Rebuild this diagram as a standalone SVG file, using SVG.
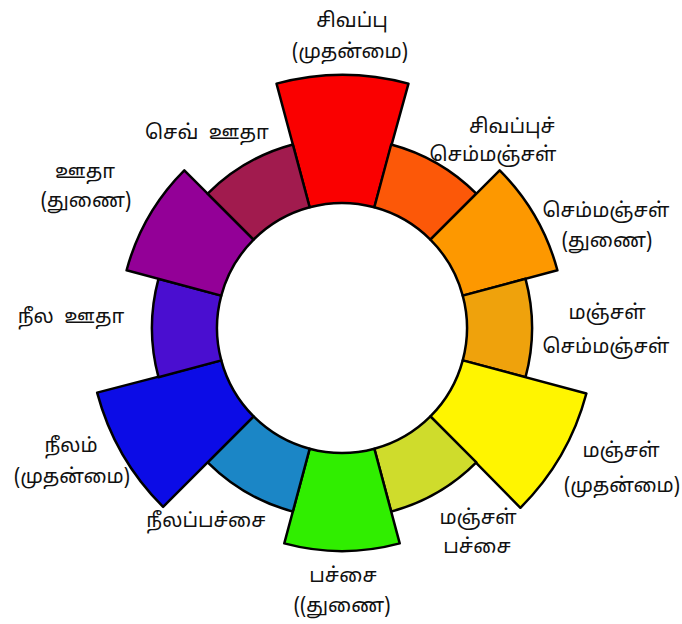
<svg xmlns="http://www.w3.org/2000/svg" xmlns:xlink="http://www.w3.org/1999/xlink" width="682" height="624" viewBox="0 0 682 624">
<style>
.w{stroke:#000;stroke-width:2.5;stroke-linejoin:round}
text{font-family:"Noto Sans Tamil","Lohit Tamil","Latha","Noto Sans","DejaVu Sans",sans-serif;font-size:20px;fill:#111;text-anchor:middle}
</style>
<defs>
<path id="p" d="M309.65 207.26 L276.52 83.62 A253 253 0 0 1 408.48 83.62 L374.35 207.26 A125 125 0 0 0 309.65 207.26 Z"/>
<path id="s" d="M309.65 207.26 L284.28 112.60 A223 223 0 0 1 399.72 112.60 L374.35 207.26 A125 125 0 0 0 309.65 207.26 Z"/>
<path id="t" d="M309.65 207.26 L292.82 144.47 A190 190 0 0 1 391.18 144.47 L374.35 207.26 A125 125 0 0 0 309.65 207.26 Z"/>
</defs>
<rect width="682" height="624" fill="#fff"/>
<g id="red"><use xlink:href="#p" class="w" fill="#FA0000"/><text x="352" y="27">சிவப்பு</text><text x="350" y="58">(முதன்மை)</text></g>
<g id="red-orange"><use xlink:href="#t" class="w" fill="#FC5808" transform="rotate(30 342 328)"/><text x="512" y="133">சிவப்புச்</text><text x="493" y="161">செம்மஞ்சள்</text></g>
<g id="orange"><use xlink:href="#s" class="w" fill="#FD9800" transform="rotate(60 342 328)"/><text x="606" y="217">செம்மஞ்சள்</text><text x="607" y="247">(துணை)</text></g>
<g id="yellow-orange"><use xlink:href="#t" class="w" fill="#EFA20C" transform="rotate(90 342 328)"/><text x="607" y="319">மஞ்சள்</text><text x="606" y="353">செம்மஞ்சள்</text></g>
<g id="yellow"><use xlink:href="#p" class="w" fill="#FFF500" transform="rotate(120 342 328)"/><text x="621" y="457">மஞ்சள்</text><text x="622" y="492">(முதன்மை)</text></g>
<g id="yellow-green"><use xlink:href="#t" class="w" fill="#CFDC2C" transform="rotate(150 342 328)"/><text x="478" y="524">மஞ்சள்</text><text x="477" y="553">பச்சை</text></g>
<g id="green"><use xlink:href="#s" class="w" fill="#30EE00" transform="rotate(180 342 328)"/><text x="343" y="582">பச்சை</text><text x="342" y="612">((துணை)</text></g>
<g id="blue-green"><use xlink:href="#t" class="w" fill="#1B86C6" transform="rotate(210 342 328)"/><text x="206" y="527">நீலப்பச்சை</text></g>
<g id="blue"><use xlink:href="#p" class="w" fill="#0C0CE6" transform="rotate(240 342 328)"/><text x="71" y="452">நீலம்</text><text x="72" y="483">(முதன்மை)</text></g>
<g id="blue-violet"><use xlink:href="#t" class="w" fill="#4A0ED0" transform="rotate(270 342 328)"/><text x="71" y="323" xml:space="preserve">நீல  ஊதா</text></g>
<g id="violet"><use xlink:href="#s" class="w" fill="#930097" transform="rotate(300 342 328)"/><text x="85" y="178">ஊதா</text><text x="86" y="207">(துணை)</text></g>
<g id="red-violet"><use xlink:href="#t" class="w" fill="#A11B4E" transform="rotate(330 342 328)"/><text x="207" y="139" xml:space="preserve">செவ்  ஊதா</text></g>
</svg>
